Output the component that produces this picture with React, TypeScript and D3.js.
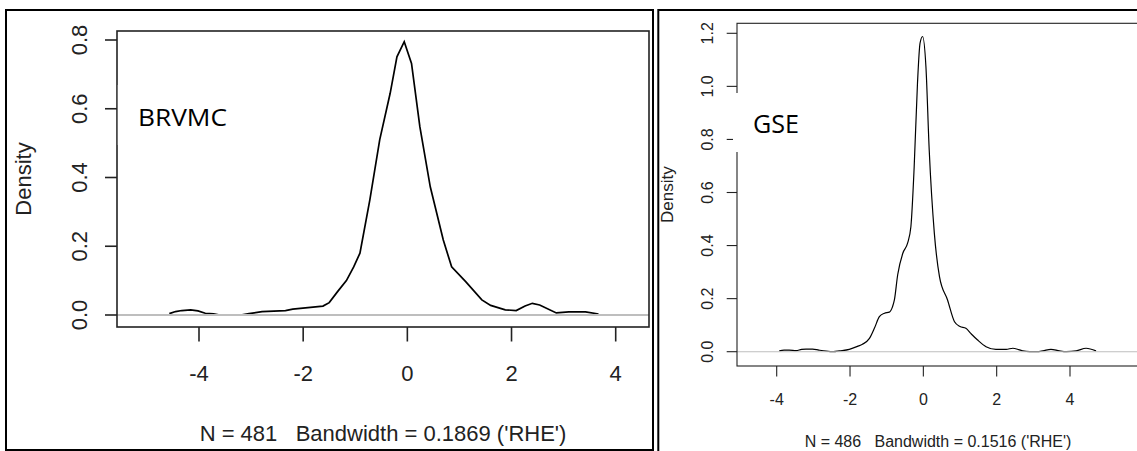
import React from "react";
import { scaleLinear, line, curveLinear, curveMonotoneX } from "d3";

// density estimates
const brvmcX = [-4.57, -4.45, -4.33, -4.16, -4.02, -3.88, -3.72, -3.6, -3.2, -3.04, -2.79, -2.34, -2.2, -1.86, -1.62, -1.5, -1.34, -1.17, -1.03, -0.91, -0.72, -0.53, -0.33, -0.2, -0.06, 0.08, 0.24, 0.44, 0.69, 0.85, 1.12, 1.43, 1.6, 1.88, 2.09, 2.26, 2.4, 2.54, 2.86, 3.1, 3.42, 3.67];
const brvmcY = [0.004, 0.01, 0.013, 0.015, 0.012, 0.005, 0.003, 0, 0, 0.004, 0.01, 0.013, 0.017, 0.022, 0.026, 0.036, 0.068, 0.1, 0.14, 0.18, 0.335, 0.51, 0.645, 0.751, 0.795, 0.732, 0.548, 0.373, 0.218, 0.14, 0.097, 0.044, 0.028, 0.015, 0.013, 0.026, 0.034, 0.029, 0.006, 0.009, 0.009, 0.003];

const gseX = [-3.93, -3.8, -3.66, -3.47, -3.32, -3.2, -3.02, -2.85, -2.65, -2.45, -2.29, -2.02, -1.8, -1.66, -1.47, -1.33, -1.2, -1.06, -0.93, -0.84, -0.79, -0.7, -0.56, -0.43, -0.34, -0.25, -0.16, -0.09, -0.02, 0.07, 0.16, 0.3, 0.44, 0.66, 0.85, 1.0, 1.16, 1.3, 1.48, 1.71, 1.98, 2.26, 2.44, 2.6, 2.71, 2.9, 3.1, 3.26, 3.48, 3.71, 3.9, 4.17, 4.44, 4.71];
const gseY = [0.003, 0.006, 0.006, 0.004, 0.009, 0.01, 0.01, 0.006, 0.002, 0, 0.003, 0.009, 0.02, 0.028, 0.05, 0.09, 0.132, 0.145, 0.149, 0.17, 0.195, 0.29, 0.371, 0.409, 0.471, 0.697, 1.012, 1.163, 1.188, 1.075, 0.76, 0.446, 0.283, 0.195, 0.113, 0.095, 0.088, 0.068, 0.044, 0.019, 0.009, 0.009, 0.013, 0.008, 0.003, 0, 0, 0.003, 0.009, 0.003, 0, 0.003, 0.013, 0.003];

const xTicks = [-4, -2, 0, 2, 4];
const brvmcYTicks = [0, 0.2, 0.4, 0.6, 0.8];
const gseYTicks = [0, 0.2, 0.4, 0.6, 0.8, 1.0, 1.2];

const brvmcCaption = "N = 481   Bandwidth = 0.1869 ('RHE')";
const gseCaption = "N = 486   Bandwidth = 0.1516 ('RHE')";

const INK = "#222";

function Panel({ id, xs, ys, yTicks, caption, label, box, xRange, yRange, yTop, font, lw, curveLw, zeroLw, ticks, labels, labelBox, labelPos, labelFont, labelLen, smooth }) {
  const xScale = scaleLinear().domain([-4, 4]).range(xRange);
  const yScale = scaleLinear().domain([0, yTop]).range(yRange);
  const pts = xs.map((x, i) => [x, ys[i]]);
  const path = line()
    .x(d => xScale(d[0]))
    .y(d => yScale(d[1]))
    .curve(smooth ? curveMonotoneX : curveLinear)(pts);
  const cx = (box.x0 + box.x1) / 2;
  const cy = (box.y0 + box.y1) / 2;

  return (
    <g>
      <defs>
        <clipPath id={id}>
          <rect x={box.x0} y={box.y0} width={box.x1 - box.x0} height={box.y1 - box.y0} />
        </clipPath>
      </defs>
      <path d={path} fill="none" stroke="#000" strokeWidth={curveLw} clipPath={`url(#${id})`} />
      <line x1={box.x0} x2={box.x1} y1={yScale(0)} y2={yScale(0)} stroke="#bebebe" strokeWidth={zeroLw} />
      <rect x={box.x0} y={box.y0} width={box.x1 - box.x0} height={box.y1 - box.y0} fill="none" stroke={INK} strokeWidth={lw} />

      {xTicks.map(t => (
        <g key={"x" + t}>
          <line x1={xScale(t)} x2={xScale(t)} y1={box.y1} y2={box.y1 + ticks.x} stroke={INK} strokeWidth={lw} />
          <text x={xScale(t)} y={labels.x} textAnchor="middle" fontSize={font} fill={INK}>{t}</text>
        </g>
      ))}
      {yTicks.map(t => (
        <g key={"y" + t}>
          <line x1={box.x0 - ticks.y} x2={box.x0} y1={yScale(t)} y2={yScale(t)} stroke={INK} strokeWidth={lw} />
          <text transform={`translate(${labels.y},${yScale(t)}) rotate(-90)`} textAnchor="middle" fontSize={font} fill={INK}>{t.toFixed(1)}</text>
        </g>
      ))}

      <text transform={`translate(${labels.density},${cy}) rotate(-90)`} textAnchor="middle" fontSize={labels.densityFont} fill={INK}>Density</text>
      <text x={cx} y={labels.caption} textAnchor="middle" fontSize={font} fill={INK} style={{ whiteSpace: "pre" }}>{caption}</text>

      {/* pasted name box over the axis */}
      <rect x={labelBox.x} y={labelBox.y} width={labelBox.w} height={labelBox.h} fill="#fff" />
      <text x={labelPos.x} y={labelPos.y} fontFamily="'Open Sans', sans-serif" fontSize={labelFont} fill="#000"
        textLength={labelLen} lengthAdjust="spacingAndGlyphs">{label}</text>
    </g>
  );
}

export default function App() {
  return (
    <svg width={1137} height={451} style={{ position: "absolute", left: 0, top: 0, background: "#fff" }}
      fontFamily="'Liberation Sans', Arial, sans-serif">
      {/* panel frames */}
      <rect x={6} y={10} width={647} height={440} fill="none" stroke="#000" strokeWidth={2} />
      <path d="M1140,10 H658.3 V452" fill="none" stroke="#000" strokeWidth={2} />

      <Panel id="clip-brvmc" xs={brvmcX} ys={brvmcY} yTicks={brvmcYTicks} caption={brvmcCaption} label="BRVMC"
        box={{ x0: 117, x1: 649, y0: 31, y1: 327 }} xRange={[199, 615.7]} yRange={[315, 40]} yTop={0.8}
        font={22} lw={1.6} curveLw={1.7} zeroLw={2.2}
        ticks={{ x: 14.5, y: 12 }}
        labels={{ x: 381, y: 87, density: 31, densityFont: 22, caption: 441 }}
        labelBox={{ x: 117.8, y: 85, w: 130, h: 60 }} labelPos={{ x: 138, y: 126 }} labelFont={24.5} labelLen={89} smooth={false} />

      <Panel id="clip-gse" xs={gseX} ys={gseY} yTicks={gseYTicks} caption={gseCaption} label="GSE"
        box={{ x0: 737, x1: 1139, y0: 23.3, y1: 366 }} xRange={[776.7, 1070]} yRange={[351.7, 33.3]} yTop={1.2}
        font={16} lw={1.1} curveLw={1.2} zeroLw={1.1}
        ticks={{ x: 10.5, y: 10.3 }}
        labels={{ x: 405, y: 713, density: 673, densityFont: 17, caption: 446.5 }}
        labelBox={{ x: 733, y: 93, w: 100, h: 59 }} labelPos={{ x: 753, y: 133.3 }} labelFont={25} labelLen={46} smooth={true} />
    </svg>
  );
}
